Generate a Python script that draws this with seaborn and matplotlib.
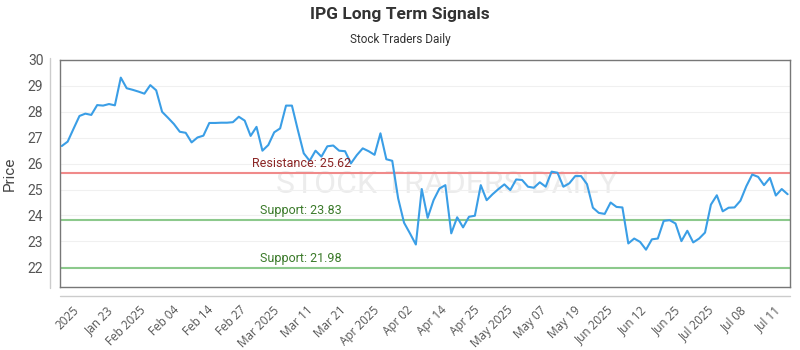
import numpy as np
import pandas as pd
import matplotlib
matplotlib.use("Agg")
import matplotlib.pyplot as plt
import seaborn as sns
from matplotlib.lines import Line2D
from matplotlib.patches import Circle

prices = [26.68, 26.85, 27.35, 27.84, 27.93, 27.88, 28.26, 28.24, 28.30, 28.25,
          29.32, 28.91, 28.85, 28.78, 28.70, 29.03, 28.83, 28.00, 27.77, 27.53,
          27.23, 27.19, 26.82, 27.01, 27.08, 27.57, 27.57, 27.58, 27.58, 27.60,
          27.81, 27.66, 27.07, 27.42, 26.50, 26.72, 27.21, 27.36, 28.24, 28.24,
          27.30, 26.40, 26.11, 26.50, 26.27, 26.67, 26.70, 26.50, 26.48, 26.01,
          26.33, 26.59, 26.48, 26.34, 27.17, 26.17, 26.11, 24.66, 23.72, 23.31,
          22.88, 25.02, 23.91, 24.59, 25.04, 25.17, 23.31, 23.93, 23.54, 23.95,
          23.99, 25.17, 24.59, 24.82, 25.02, 25.20, 24.98, 25.39, 25.37, 25.11,
          25.07, 25.28, 25.11, 25.69, 25.65, 25.11, 25.24, 25.52, 25.52, 25.21,
          24.30, 24.10, 24.06, 24.50, 24.33, 24.31, 22.92, 23.11, 22.98, 22.68,
          23.08, 23.11, 23.79, 23.82, 23.69, 23.01, 23.41, 22.96, 23.11, 23.34,
          24.42, 24.78, 24.16, 24.30, 24.31, 24.57, 25.13, 25.58, 25.49, 25.17,
          25.45, 24.77, 25.02, 24.82]

tick_labels = ["2025", "Jan 23", "Feb 2025", "Feb 04", "Feb 14", "Feb 27",
               "Mar 2025", "Mar 11", "Mar 21", "Apr 2025", "Apr 02", "Apr 14",
               "Apr 25", "May 2025", "May 07", "May 19", "Jun 2025", "Jun 12",
               "Jun 25", "Jul 2025", "Jul 08", "Jul 11"]

resistance = 25.62
supports = [23.83, 21.98]

df = pd.DataFrame({"idx": np.arange(len(prices)), "price": prices})

sns.set_theme(style="white")
plt.rcParams['font.family'] = ['Roboto', 'DejaVu Sans']

fig = plt.figure(figsize=(8, 3.5), dpi=100)
ax = fig.add_axes([0.075, 0.18, 0.9125, 0.6486])

# watermark
ax.text(0.53, 0.45, "STOCK TRADERS DAILY", transform=ax.transAxes, ha="center",
        va="center", fontsize=23, fontweight="normal", color="#ececec",
        zorder=0)
circ = Circle((235 / 800, 1 - 180 / 350), 0.052, transform=fig.transFigure,
              facecolor="#f1f3f5", edgecolor="#e6e9ec", lw=4, zorder=0)
fig.add_artist(circ)

for y in range(22, 31):
    ax.axhline(y, color="#f0f0f0", lw=0.8, zorder=1)

ax.axhline(resistance, color="#f08a8a", lw=1.5, zorder=2)
for s in supports:
    ax.axhline(s, color="#8cc98c", lw=1.5, zorder=2)

sns.lineplot(data=df, x="idx", y="price", ax=ax, color="#3a9ee6", lw=1.5, zorder=3)

ax.text(32.3, resistance + 0.12, f"Resistance: {resistance:.2f}", color="#8b2525",
        fontsize=9, va="bottom", ha="left", zorder=4)
for s in supports:
    ax.text(33.6, s + 0.12, f"Support: {s:.2f}", color="#3b7a2a", fontsize=9,
            va="bottom", ha="left", zorder=4)

ax.set_xlim(-0.3, 123.4)
ax.set_ylim(21.24, 30)
ax.set_yticks(range(22, 31))
ax.set_yticklabels([str(v) for v in range(22, 31)], color="#555555", fontsize=10)
ax.set_xticks(np.linspace(3.4, 122.2, len(tick_labels)))
ax.set_xticklabels(tick_labels, rotation=45, ha="right", color="#555555", fontsize=8.5,
                   family=["Open Sans", "DejaVu Sans"])
ax.tick_params(axis="x", pad=12, length=0)
ax.tick_params(axis="y", pad=12, length=0)
ax.set_xlabel("")
ax.set_ylabel("Price", fontsize=11, color="#444444", labelpad=8)

for sp in ax.spines.values():
    sp.set_color("#777777")
    sp.set_linewidth(1.0)

# offset axis lines
fig.add_artist(Line2D([50 / 800, 50 / 800], [1 - 58 / 350, 1 - 288 / 350],
                      color="#cccccc", lw=1.0, transform=fig.transFigure))
fig.add_artist(Line2D([60 / 800, 790 / 800], [1 - 296 / 350, 1 - 296 / 350],
                      color="#cccccc", lw=1.0, transform=fig.transFigure))

fig.text(0.5, 1 - 15 / 350, "IPG Long Term Signals", ha="center", va="center",
         fontsize=12.5, fontweight="bold", color="#333333")
fig.text(0.5, 1 - 40 / 350, "Stock Traders Daily", ha="center", va="center",
         fontsize=8.5, color="#333333")

fig.savefig("out.png", dpi=100)
